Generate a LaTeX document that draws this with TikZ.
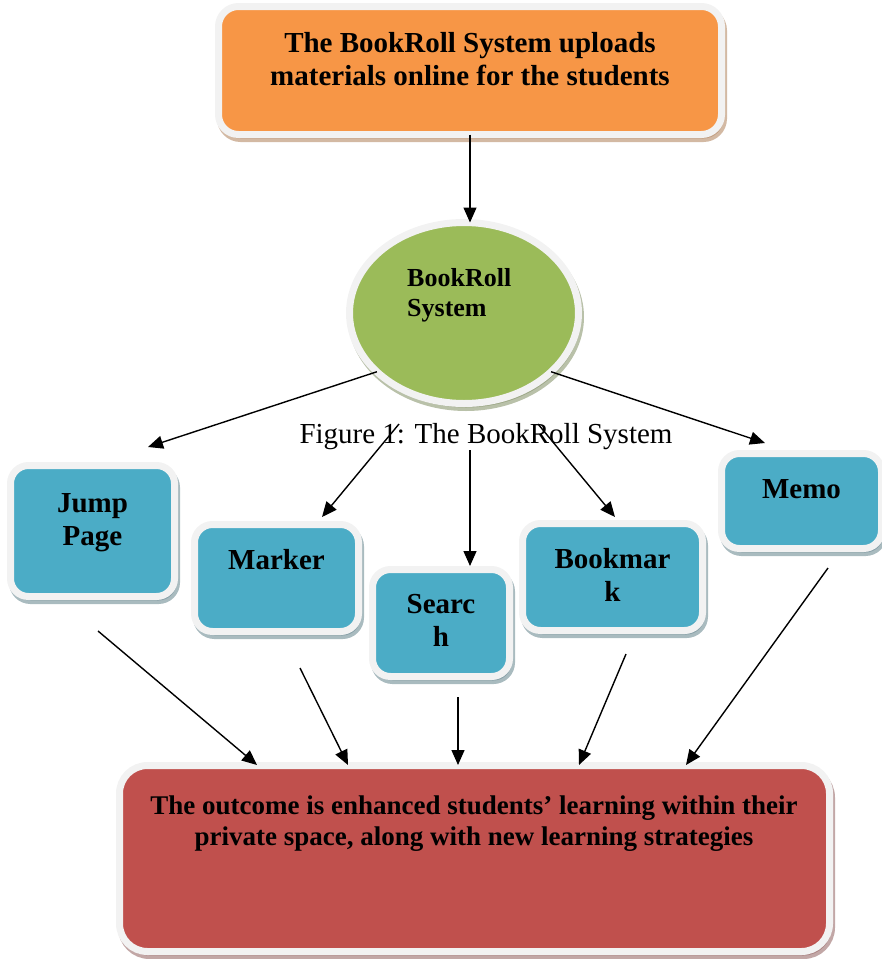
\documentclass[tikz,border=0pt]{standalone}
\usepackage{fontspec}
\setmainfont{Liberation Serif}
\usepackage{tikz}
\usetikzlibrary{shapes,arrows,arrows.meta}
\usetikzlibrary{shadows}
\usetikzlibrary{positioning}
\definecolor{rim}{HTML}{F2F2F2}
\definecolor{orng}{HTML}{F79646}
\definecolor{grn}{HTML}{9BBB59}
\definecolor{aqua}{HTML}{4BACC6}
\definecolor{brick}{HTML}{C0504D}
\tikzstyle{block} = [rectangle, draw=rim, line width=7pt, outer sep=0pt, inner sep=0pt, rounded corners=18pt]
\tikzstyle{tile} = [block, fill=aqua, drop shadow={shadow xshift=2pt, shadow yshift=-4pt, fill=aqua!30!gray, draw=aqua!30!gray, line width=7pt, opacity=.6}]
\tikzstyle{txt} = [inner sep=0pt, align=center, font=\fontsize{29}{33}\selectfont\bfseries]
\tikzstyle{line} = [draw, line width=1.4pt, -{Triangle[length=15pt,width=13pt]}]

\begin{document}
\begin{tikzpicture}[x=1pt,y=-1pt]
    \useasboundingbox (0,0) rectangle (882,959);
    % Place nodes (text nodes sit on the baseline of their last line)
    \node[block, fill=orng, minimum width=503pt, minimum height=128pt, rounded corners=20pt,
          drop shadow={shadow xshift=2pt, shadow yshift=-4pt, fill=orng!45!gray, draw=orng!45!gray, line width=7pt, opacity=.6}] (upload) at (470,70.5) {};
    \node[txt, anchor=base] (upload-text) at (470,85) {The BookRoll System uploads\\materials online for the students};
    \node[ellipse, draw=rim, line width=7pt, fill=grn, minimum width=229pt, minimum height=181pt, inner sep=0pt, outer sep=0pt,
          drop shadow={shadow xshift=2pt, shadow yshift=-4pt, fill=grn!40!gray, draw=grn!40!gray, line width=7pt, opacity=.6}] (hub) at (464,313) {};
    \node[txt, anchor=base west, align=left, font=\fontsize{26}{30}\selectfont\bfseries] (hub-text) at (407,316) {BookRoll\\System};
    \node[inner sep=0pt, anchor=base, font=\fontsize{29}{33}\selectfont] (caption) at (486,443) {Figure 1: The BookRoll System};
    \node[tile, minimum width=164pt, minimum height=131pt] (jump) at (92.5,531) {};
    \node[txt, anchor=base] (jump-text) at (92.5,545) {Jump\\Page};
    \node[tile, minimum width=164pt, minimum height=107pt] (marker) at (276.5,578) {};
    \node[txt, anchor=base] (marker-text) at (276.5,569) {Marker};
    \node[tile, minimum width=137pt, minimum height=107pt] (search) at (441,623) {};
    \node[txt, anchor=base] (search-text) at (441,646) {Searc\\h};
    \node[tile, minimum width=180pt, minimum height=107pt] (bookmark) at (612.5,577) {};
    \node[txt, anchor=base] (bookmark-text) at (612.5,601) {Bookmar\\k};
    \node[tile, minimum width=160pt, minimum height=95pt] (memo) at (801.5,501) {};
    \node[txt, anchor=base] (memo-text) at (801.5,498) {Memo};
    \node[block, fill=brick, minimum width=710pt, minimum height=186pt, rounded corners=28pt,
          drop shadow={shadow xshift=2pt, shadow yshift=-4pt, fill=brick!40!gray, draw=brick!40!gray, line width=7pt, opacity=.6}] (outcome) at (474.5,858.5) {};
    \node[txt, anchor=base, font=\fontsize{27}{31}\selectfont\bfseries] (outcome-text) at (474,845)
        {The outcome is enhanced students’ learning within their\\private space, along with new learning strategies};
    % Free ends of the edges
    \coordinate (jump-in) at (148,447);
    \coordinate (marker-top) at (399,424);
    \coordinate (marker-in) at (322,517);
    \coordinate (search-top) at (470,450);
    \coordinate (search-in) at (470,566);
    \coordinate (bookmark-top) at (538,424);
    \coordinate (bookmark-in) at (615,517);
    \coordinate (memo-in) at (765,443);
    \coordinate (jump-out) at (98,631);
    \coordinate (marker-out) at (300,668);
    \coordinate (search-out) at (458,697);
    \coordinate (bookmark-out) at (626,654);
    \coordinate (memo-out) at (828,568);
    \coordinate (o1) at (257,765);
    \coordinate (o2) at (348,765);
    \coordinate (o3) at (458,765);
    \coordinate (o4) at (579,765);
    \coordinate (o5) at (686,765);
    % Draw edges
    \path [line] (upload.south) -- (upload.south |- hub.north);
    \path [line] (hub.214) -- (jump-in);
    \path [line] (marker-top) -- (marker-in);
    \path [line] (search-top) -- (search-in);
    \path [line] (bookmark-top) -- (bookmark-in);
    \path [line] (hub.326) -- (memo-in);
    \path [line] (jump-out) -- (o1);
    \path [line] (marker-out) -- (o2);
    \path [line] (search-out) -- (o3);
    \path [line] (bookmark-out) -- (o4);
    \path [line] (memo-out) -- (o5);
\end{tikzpicture}
\end{document}
